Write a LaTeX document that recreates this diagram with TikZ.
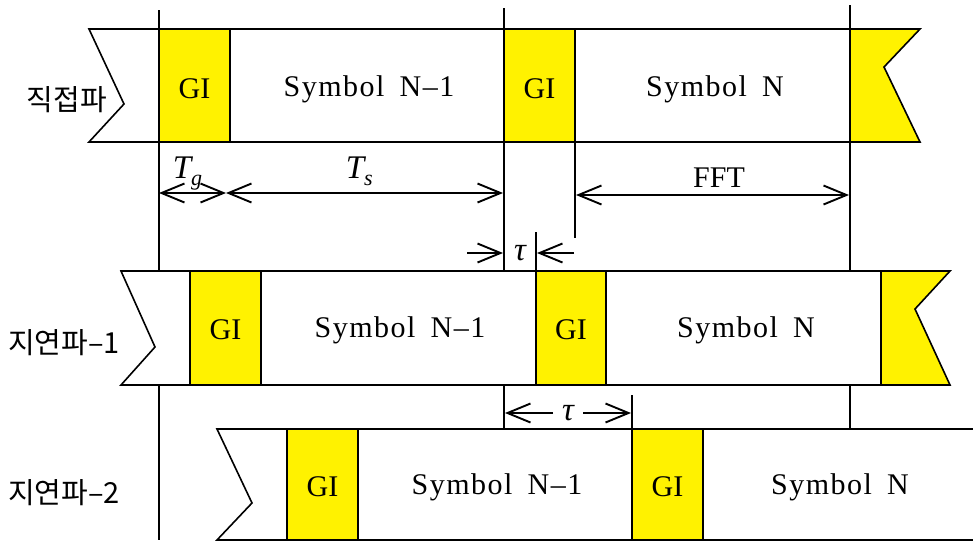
\documentclass[tikz,border=0pt]{standalone}
\usepackage{fontspec}
\setmainfont{Liberation Serif}
\newfontfamily\kor{Noto Sans CJK KR}
\newfontfamily\spaced[LetterSpace=5,WordSpace=1.7]{Liberation Serif}
\usetikzlibrary{arrows.meta}
\begin{document}
\begin{tikzpicture}[x=1pt,y=-1pt,line width=1.6pt,
  gi/.style={fill=yellow,draw=black},
  wbox/.style={fill=white,draw=black,line join=miter},
  lbl/.style={font=\fontsize{30}{34}\selectfont,inner sep=0pt},
  slbl/.style={font=\spaced\fontsize{30}{34}\selectfont,inner sep=0pt},
  ilbl/.style={font=\itshape\fontsize{33}{38}\selectfont,inner sep=0pt},
  klbl/.style={font=\kor\fontsize{29}{34}\selectfont,inner sep=0pt},
  dim/.style={line width=1.6pt,-{Straight Barb[length=23pt,width=19pt,line width=1.9pt]}},
  ddim/.style={line width=1.6pt,{Straight Barb[length=23pt,width=19pt,line width=1.9pt]}-{Straight Barb[length=23pt,width=19pt,line width=1.9pt]}}]
\useasboundingbox (0,0) rectangle (973,542);
% guide lines
\draw (159,10) -- (159,540);
\draw (504,8) -- (504,428);
\draw (850,5) -- (850,428);
\draw (575,142) -- (575,238);
\draw (536,232) -- (536,270);
\draw (632,395) -- (632,428);
% row 1
\draw[wbox] (89,29) -- (850,29) -- (850,142) -- (89,142) -- (124,104) -- cycle;
\draw[gi] (159,29) rectangle (230,142);
\draw[gi] (504,29) rectangle (575,142);
\draw[gi,line join=miter] (850,29) -- (920,29) -- (884,67) -- (920,142) -- (850,142) -- cycle;
\node[lbl] (gi11) at (194.5,89) {GI};
\node[slbl] (s11) at (369,89) {Symbol N–1};
\node[lbl] (gi12) at (539.5,89) {GI};
\node[slbl] (s12) at (715,89) {Symbol N};
\node[klbl] (k1) at (67,100) {직접파};
% row 2
\draw[wbox] (121,271) -- (881,271) -- (881,385) -- (121,385) -- (155,347) -- cycle;
\draw[gi] (190,271) rectangle (261,385);
\draw[gi] (536,271) rectangle (606,385);
\draw[gi,line join=miter] (881,271) -- (950,271) -- (915,309) -- (950,385) -- (881,385) -- cycle;
\node[lbl] (gi21) at (225.5,330) {GI};
\node[slbl] (s21) at (400,330) {Symbol N–1};
\node[lbl] (gi22) at (571,330) {GI};
\node[slbl] (s22) at (746,330) {Symbol N};
\node[klbl] (k2) at (64,343) {지연파–1};
% row 3
\fill[white] (217,429) -- (973,429) -- (973,540) -- (217,540) -- (252,503) -- cycle;
\draw[line join=miter] (973,429) -- (217,429) -- (252,503) -- (217,540) -- (973,540);
\draw[gi] (287,429) rectangle (358,540);
\draw[gi] (632,429) rectangle (703,540);
\node[lbl] (gi31) at (322.5,487) {GI};
\node[slbl] (s31) at (497,487) {Symbol N–1};
\node[lbl] (gi32) at (667.5,487) {GI};
\node[slbl] (s32) at (840,487) {Symbol N};
\node[klbl] (k3) at (64,493) {지연파–2};
% dimensions
\coordinate (a0) at (159,193);
\coordinate (a1) at (226,193);
\coordinate (a2) at (503,193);
\draw[ddim] (a0) -- (a1);
\draw[ddim] (a1) -- (a2);
\node[ilbl,anchor=base west] (tg) at (172,178) {T\raisebox{-7pt}{\fontsize{22}{24}\selectfont g}};
\node[ilbl,anchor=base west] (ts) at (345,178) {T\raisebox{-7pt}{\fontsize{22}{24}\selectfont s}};
\coordinate (f0) at (576,195);
\coordinate (f1) at (849,195);
\draw[ddim] (f0) -- (f1);
\node[lbl] (fft) at (719,178) {FFT};
\coordinate (t0) at (467,253);
\coordinate (t1) at (503,253);
\coordinate (t2) at (574,253);
\coordinate (t3) at (537,253);
\draw[dim] (t0) -- (t1);
\draw[dim] (t2) -- (t3);
\node[ilbl] (tau1) at (520,253) {τ};
\node[ilbl] (tau2) at (568,413) {τ};
\coordinate (u0) at (505,413);
\coordinate (u1) at (631,413);
\coordinate (v0) at (553,413);
\coordinate (v1) at (583,413);
\draw[dim] (v0) -- (u0);
\draw[dim] (v1) -- (u1);
\end{tikzpicture}
\end{document}
